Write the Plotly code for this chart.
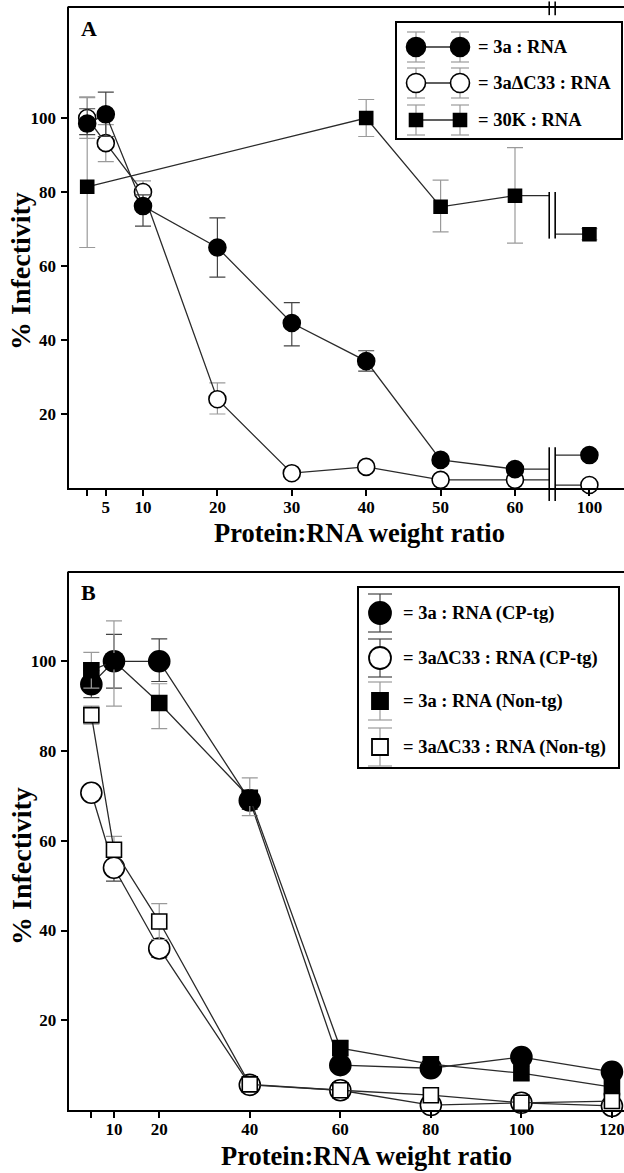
import plotly.graph_objects as go

W, H = 624, 1173
FONT = "Liberation Serif"

# ---------------- Panel A data ----------------
ratio_A = [2.5, 5, 10, 20, 30, 40, 50, 60, 100]
a3_A = [98.5, 101, 76.2, 65, 44.6, 34.3, 7.6, 5.1, 8.9]
a3_A_up = [4, 6, 3, 8, 5.5, 2.8, 0, 0, 0]
a3_A_dn = [3, 6, 5.4, 8, 6.2, 2.7, 0, 0, 0]
dc_A = [100, 93.2, 80, 24, 4, 5.7, 2.2, 2.2, 0.8]
dc_A_up = [5.5, 5, 3, 4.4, 0, 0, 0, 0, 0]
dc_A_dn = [5.5, 5, 3, 4, 0, 0, 0, 0, 0]
ratio_30K = [2.5, 40, 50, 60, 100]
k30_A = [81.4, 100, 76, 79, 68.6]
k30_A_up = [24.3, 5, 7.2, 13, 1.5]
k30_A_dn = [16.4, 5, 6.8, 12.8, 1.5]

# ---------------- Panel B data ----------------
ratio_B = [5, 10, 20, 40, 60, 80, 100, 120]
a3_cp = [94.9, 100, 100, 69, 10, 9.3, 11.8, 8.5]
a3_cp_up = [3, 6, 5, 2, 1.5, 1.5, 1.5, 1.5]
a3_cp_dn = [3, 6, 4.5, 2, 1.5, 1.5, 1.5, 1.5]
dc_cp = [70.7, 54, 36, 5.6, 4.4, 1.1, 1.6, 0.9]
dc_cp_up = [1, 3, 2, 1, 1, 1, 1, 1]
dc_cp_dn = [1, 3, 2, 1, 1, 1, 1, 1]
a3_non = [98, 100, 90.7, 69.6, 13.8, 10.2, 8.2, 5.1]
a3_non_up = [4, 9, 4.3, 4.4, 1.5, 1.5, 1.5, 1.5]
a3_non_dn = [4, 10, 5.7, 4, 1.5, 1.5, 1.5, 1.5]
dc_non = [88, 58, 42, 5.7, 4.4, 3.3, 1.6, 2]
dc_non_up = [2, 3, 4, 1, 1, 1, 1, 1]
dc_non_dn = [2, 1.5, 4, 1, 1, 1, 1, 1]

tick_A = [2.5, 5, 10, 20, 30, 40, 50, 60, 100]
tick_A_text = ["", "5", "10", "20", "30", "40", "50", "60", "100"]
tick_B = [5, 10, 20, 40, 60, 80, 100, 120]
tick_B_text = ["", "10", "20", "40", "60", "80", "100", "120"]
y_ticks = [20, 40, 60, 80, 100]

legend_A = ["= 3a : RNA", "= 3a\u0394C33 : RNA", "= 30K : RNA"]
legend_B = ["= 3a : RNA (CP-tg)", "= 3a\u0394C33 : RNA (CP-tg)",
            "= 3a : RNA (Non-tg)", "= 3a\u0394C33 : RNA (Non-tg)"]

# ---------------- axis geometry ----------------
BREAK_LO, BREAK_SHIFT = 65, 30          # values above the break are shifted left by 30
def posA(v):
    return v if v <= BREAK_LO else v - BREAK_SHIFT

XA_DOM = [68.6 / W, 1.0]
XA_RNG = [0, (W - 68.6) / 7.44]
YA_DOM = [1 - 488 / H, 1 - 7 / H]
YA_RNG = [0, 130]
XB_DOM = [68.7 / W, 1.0]
XB_RNG = [0, (W - 68.7) / 4.527]
YB_DOM = [1 - 1110 / H, 1 - 572 / H]
YB_RNG = [0, 119.9]

def to_paper(v, dom, rng):
    return dom[0] + (v - rng[0]) / (rng[1] - rng[0]) * (dom[1] - dom[0])

def px(x):
    return x / W

def py(y):
    return 1 - y / H

def bfont(size):
    return dict(family=FONT, size=size, color="black", weight="bold")

LINE = "#2a2a2a"
ERR_DARK = "#444444"
ERR_GRAY = "#9a9a9a"

fig = go.Figure()

def add_series(xs, ys, up, dn, symbol, fill, size, errc, xaxis, yaxis, mode="lines+markers"):
    fig.add_trace(go.Scatter(
        x=xs, y=ys, mode=mode, xaxis=xaxis, yaxis=yaxis,
        line=dict(color=LINE, width=1.3),
        marker=dict(symbol=symbol, size=size, color=fill,
                    line=dict(color="black", width=1.6)),
        error_y=dict(type="data", symmetric=False, array=up, arrayminus=dn,
                     color=errc, thickness=1.2, width=8),
        showlegend=False, cliponaxis=False, hoverinfo="skip"))

def add_line(xs, ys, xaxis, yaxis):
    fig.add_trace(go.Scatter(x=xs, y=ys, mode="lines", xaxis=xaxis, yaxis=yaxis,
                             line=dict(color=LINE, width=1.3), showlegend=False,
                             hoverinfo="skip"))

# Panel A: split each series at the axis break
BRK_L, BRK_R = 64.6, 65.4
def panelA(xs, ys, up, dn, symbol, fill, size, errc):
    pre = [i for i, v in enumerate(xs) if v <= BREAK_LO]
    post = [i for i, v in enumerate(xs) if v > BREAK_LO]
    add_line([posA(xs[pre[-1]]), BRK_L], [ys[pre[-1]], ys[pre[-1]]], "x", "y")
    add_line([BRK_R, posA(xs[post[0]])], [ys[post[0]], ys[post[0]]], "x", "y")
    add_series([posA(xs[i]) for i in pre], [ys[i] for i in pre],
               [up[i] for i in pre], [dn[i] for i in pre], symbol, fill, size, errc, "x", "y")
    add_series([posA(xs[i]) for i in post], [ys[i] for i in post],
               [up[i] for i in post], [dn[i] for i in post], symbol, fill, size, errc, "x", "y",
               mode="markers")

panelA(ratio_30K, k30_A, k30_A_up, k30_A_dn, "square", "black", 13, ERR_GRAY)
panelA(ratio_A, dc_A, dc_A_up, dc_A_dn, "circle", "white", 17, ERR_GRAY)
panelA(ratio_A, a3_A, a3_A_up, a3_A_dn, "circle", "black", 17, ERR_DARK)

# Panel B
add_series(ratio_B, a3_cp, a3_cp_up, a3_cp_dn, "circle", "black", 21, ERR_DARK, "x2", "y2")
add_series(ratio_B, dc_cp, dc_cp_up, dc_cp_dn, "circle", "white", 21, ERR_DARK, "x2", "y2")
add_series(ratio_B, a3_non, a3_non_up, a3_non_dn, "square", "black", 15, ERR_GRAY, "x2", "y2")
add_series(ratio_B, dc_non, dc_non_up, dc_non_dn, "square", "white", 15, ERR_GRAY, "x2", "y2")

shapes = []
annotations = []

# Frame top lines
for dom in (YA_DOM, YB_DOM):
    shapes.append(dict(type="line", xref="paper", yref="paper", x0=XA_DOM[0] - 1 / W, x1=1.0,
                       y0=dom[1], y1=dom[1], line=dict(color="black", width=2.2)))

# Axis break marks (panel A)
def brk(v0, v1):
    for xb in (BRK_L, BRK_R):
        xp = to_paper(xb, XA_DOM, XA_RNG)
        shapes.append(dict(type="line", xref="paper", yref="paper", x0=xp, x1=xp,
                           y0=to_paper(v0, YA_DOM, YA_RNG), y1=to_paper(v1, YA_DOM, YA_RNG),
                           line=dict(color="black", width=1.6)))
brk(67.4, 80)
brk(-3.5, 11)
brk(127.8, 131.5)

# Legend A
def legA_row(yc, symbol, filled):
    for xc in (416, 460):
        for dy in (-15, 15):
            shapes.append(dict(type="line", xref="paper", yref="paper",
                               x0=px(xc - 9), x1=px(xc + 9), y0=py(yc + dy), y1=py(yc + dy),
                               line=dict(color=ERR_GRAY, width=1.2)))
        shapes.append(dict(type="line", xref="paper", yref="paper", x0=px(xc), x1=px(xc),
                           y0=py(yc - 15), y1=py(yc + 15), line=dict(color=ERR_GRAY, width=1.2)))
    shapes.append(dict(type="line", xref="paper", yref="paper", x0=px(416), x1=px(460),
                       y0=py(yc), y1=py(yc), line=dict(color=LINE, width=1.3)))
    for xc in (416, 460):
        r = 9.5 if symbol == "circle" else 6.5
        shapes.append(dict(type="circle" if symbol == "circle" else "rect",
                           xref="paper", yref="paper",
                           x0=px(xc - r), x1=px(xc + r), y0=py(yc + r), y1=py(yc - r),
                           fillcolor="black" if filled else "white",
                           line=dict(color="black", width=1.6)))

shapes.append(dict(type="rect", xref="paper", yref="paper", x0=px(396), x1=px(622),
                   y0=py(139), y1=py(22), fillcolor="white", line=dict(color="black", width=2),
                   layer="above"))
for yc, sym, fl, txt in zip((47, 83, 120), ("circle", "circle", "square"),
                            (True, False, True), legend_A):
    legA_row(yc, sym, fl)
    annotations.append(dict(x=px(476), y=py(yc), xref="paper", yref="paper", text=txt,
                            xanchor="left", yanchor="middle", showarrow=False,
                            font=bfont(18.5)))

# Legend B
shapes.append(dict(type="rect", xref="paper", yref="paper", x0=px(358), x1=px(619),
                   y0=py(768), y1=py(587), fillcolor="white", line=dict(color="black", width=2)))
for yc, sym, fl, txt, ec in zip((613, 658, 701, 747),
                                ("circle", "circle", "square", "square"),
                                (True, False, True, False), legend_B,
                                (ERR_DARK, ERR_DARK, ERR_GRAY, ERR_GRAY)):
    xc = 380
    shapes.append(dict(type="line", xref="paper", yref="paper", x0=px(xc), x1=px(xc),
                       y0=py(yc - 19), y1=py(yc + 19), line=dict(color=ec, width=1.2)))
    for dy in (-19, 19):
        shapes.append(dict(type="line", xref="paper", yref="paper",
                           x0=px(xc - 12), x1=px(xc + 12), y0=py(yc + dy), y1=py(yc + dy),
                           line=dict(color=ec, width=1.2)))
    r = 11 if sym == "circle" else 8
    shapes.append(dict(type="circle" if sym == "circle" else "rect",
                       xref="paper", yref="paper",
                       x0=px(xc - r), x1=px(xc + r), y0=py(yc + r), y1=py(yc - r),
                       fillcolor="black" if fl else "white",
                       line=dict(color="black", width=1.8)))
    annotations.append(dict(x=px(401), y=py(yc), xref="paper", yref="paper", text=txt,
                            xanchor="left", yanchor="middle", showarrow=False,
                            font=bfont(18.5)))

# Panel letters and axis titles
for letter, yc in (("A", 28), ("B", 592)):
    annotations.append(dict(x=px(79), y=py(yc), xref="paper", yref="paper", text=letter,
                            xanchor="left", yanchor="middle", showarrow=False,
                            font=bfont(22)))
for xc, yc in ((359, 533), (366, 1156)):
    annotations.append(dict(x=px(xc), y=py(yc), xref="paper", yref="paper",
                            text="Protein:RNA weight ratio", xanchor="center", yanchor="middle",
                            showarrow=False, font=bfont(26.5), borderpad=0))
for yc in (271, 866):
    annotations.append(dict(x=px(21), y=py(yc), xref="paper", yref="paper",
                            text="% Infectivity", textangle=-90, xanchor="center",
                            yanchor="middle", showarrow=False,
                            font=bfont(28)))

axis_common = dict(showline=True, linecolor="black", linewidth=2.2, ticks="outside",
                   ticklen=6, tickwidth=1.5, tickcolor="black", showgrid=False,
                   zeroline=False, tickfont=bfont(17), fixedrange=True,
                   ticklabeloverflow="allow")

fig.update_layout(
    width=W, height=H, margin=dict(l=0, r=0, t=0, b=0),
    paper_bgcolor="white", plot_bgcolor="white",
    font=dict(family=FONT, color="black", weight="bold"),
    xaxis=dict(domain=XA_DOM, range=XA_RNG, anchor="y",
               tickvals=[posA(v) for v in tick_A], ticktext=tick_A_text,
               ticklabelstandoff=-4, **axis_common),
    yaxis=dict(domain=YA_DOM, range=YA_RNG, anchor="x", tickvals=y_ticks,
               ticklabelstandoff=1, **axis_common),
    xaxis2=dict(domain=XB_DOM, range=XB_RNG, anchor="y2",
                tickvals=tick_B, ticktext=tick_B_text, ticklabelstandoff=-4, **axis_common),
    yaxis2=dict(domain=YB_DOM, range=YB_RNG, anchor="x2", tickvals=y_ticks,
                ticklabelstandoff=1, **axis_common),
    shapes=shapes, annotations=annotations,
)

fig.write_html("out.html", config={"displayModeBar": False},
               post_script="document.body.style.margin='0';document.body.style.padding='0';")
